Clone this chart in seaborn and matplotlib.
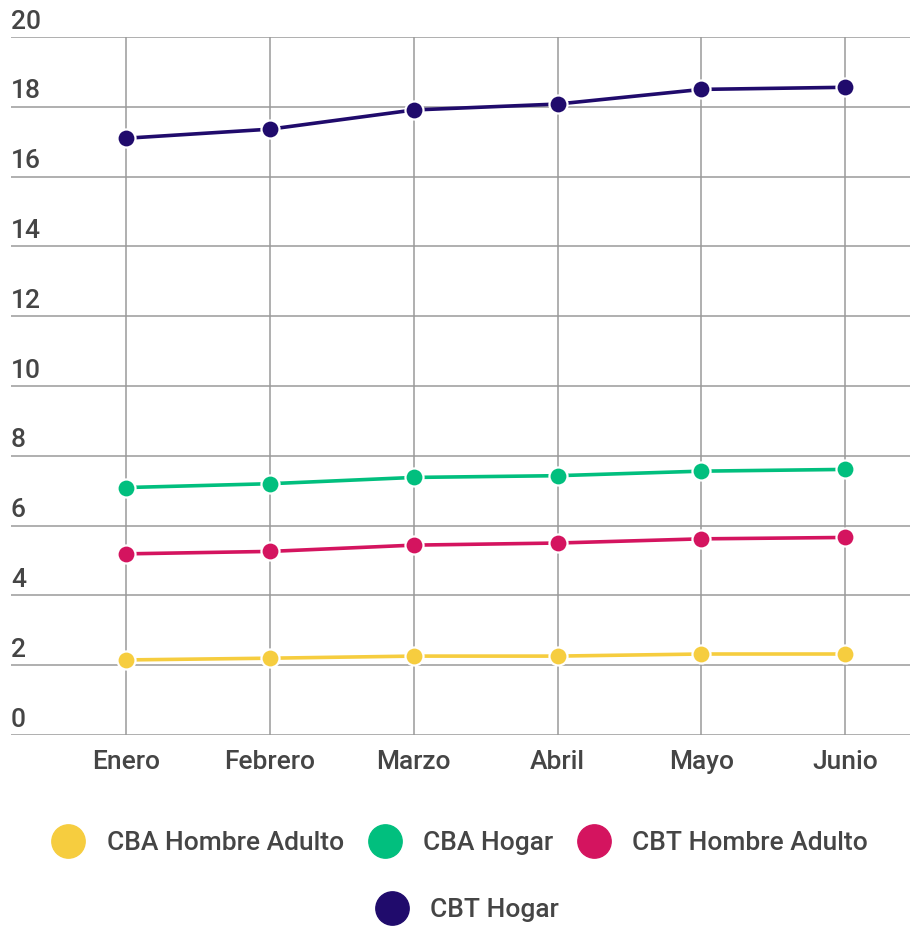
import pandas as pd
import matplotlib.pyplot as plt
import matplotlib.transforms as mtransforms
from matplotlib.lines import Line2D
import seaborn as sns

# Datos (miles de pesos, lectura del gráfico)
meses = ['Enero', 'Febrero', 'Marzo', 'Abril', 'Mayo', 'Junio']
cba_hombre = [2.15, 2.20, 2.26, 2.26, 2.32, 2.32]
cba_hogar = [7.09, 7.20, 7.38, 7.43, 7.56, 7.61]
cbt_hombre = [5.19, 5.26, 5.44, 5.50, 5.62, 5.66]
cbt_hogar = [17.10, 17.36, 17.91, 18.08, 18.50, 18.56]

series = ['CBA Hombre Adulto', 'CBA Hogar', 'CBT Hombre Adulto', 'CBT Hogar']
colores = ['#F6CD3F', '#01BF7E', '#D4145F', '#200B6C']
y_ticks = [0, 2, 4, 6, 8, 10, 12, 14, 16, 18, 20]

df = pd.DataFrame({
    'mes': meses * 4,
    'valor': cba_hombre + cba_hogar + cbt_hombre + cbt_hogar,
    'serie': [s for s in series for _ in meses],
})

sns.set_style('white')
plt.rcParams['font.family'] = ['Roboto', 'DejaVu Sans']
plt.rcParams['font.weight'] = 'medium'

FS = 19
TXT = '#454545'

fig = plt.figure(figsize=(9.1, 9.26), dpi=100)
ax = fig.add_axes([0.012, 0.2063, 0.988, 0.7537])

sns.lineplot(data=df, x='mes', y='valor', hue='serie', palette=colores,
             hue_order=series, sort=False, linewidth=2.6, marker='o',
             markersize=13, markeredgecolor='white', markeredgewidth=1.6,
             legend=False, ax=ax)

ax.set_xlim(-0.8, 5.45)
ax.set_ylim(0, 20)
ax.set_yticks(y_ticks)
ax.set_yticklabels([])
ax.set_xlabel('')
ax.set_ylabel('')
ax.grid(True, color='#9a9a9a', linewidth=1.1)
ax.set_axisbelow(True)
for s in ax.spines.values():
    s.set_visible(False)
ax.tick_params(axis='both', length=0)
ax.tick_params(axis='x', pad=11, labelsize=FS, labelcolor=TXT)

# etiquetas del eje y sobre las líneas de la grilla
trans = mtransforms.blended_transform_factory(ax.transAxes, ax.transData)
off = mtransforms.offset_copy(trans, fig=fig, x=0, y=6, units='points')
for v in y_ticks:
    ax.text(0.0, v, str(v), transform=off, ha='left', va='baseline',
            fontsize=FS, color=TXT)

def handle(c):
    return Line2D([], [], linestyle='none', marker='o', markersize=24,
                  markerfacecolor=c, markeredgecolor=c)

leg_kw = dict(frameon=False, fontsize=FS, handletextpad=0.45,
              columnspacing=0.55, labelcolor=TXT, borderpad=0)
fig.legend([handle(c) for c in colores[:3]], series[:3], loc='center',
           bbox_to_anchor=(0.5, 0.0896), ncol=3, **leg_kw)
fig.legend([handle(colores[3])], series[3:], loc='center',
           bbox_to_anchor=(0.508, 0.0173), ncol=1, **leg_kw)

plt.savefig('out.png', dpi=100)
